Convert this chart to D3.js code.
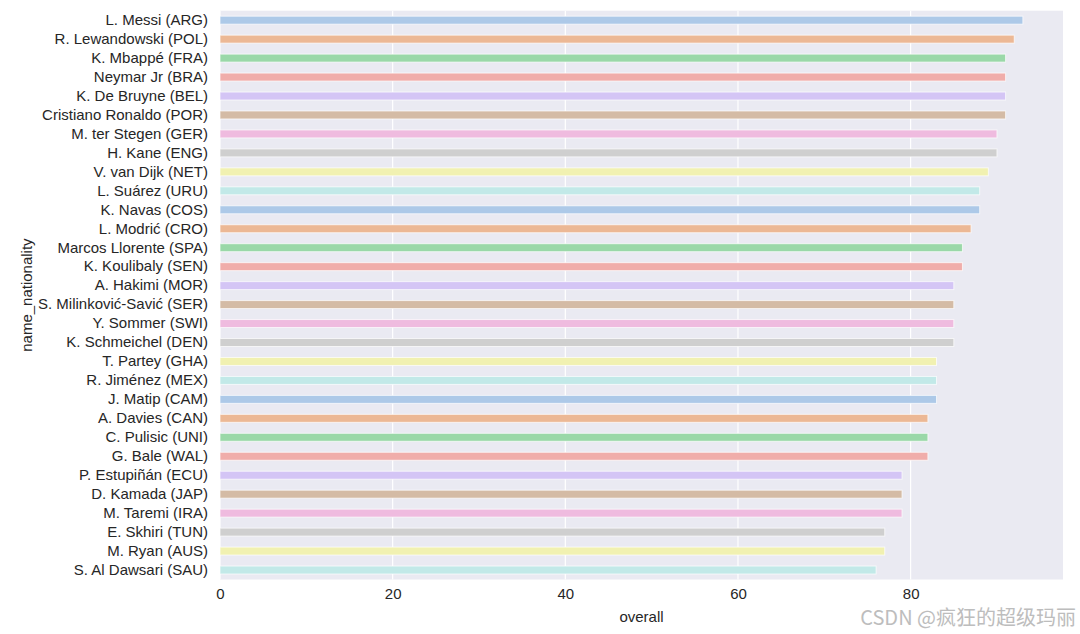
<!DOCTYPE html>
<html>
<head>
<meta charset="utf-8">
<script src="https://cdn.jsdelivr.net/npm/d3@7"></script>
<style>
  body { margin: 0; background: #fff; }
  text { font-family: "Liberation Sans", Arial, sans-serif; }
</style>
</head>
<body>
<div id="chart"></div>
<script>
// players, top rated per nationality
var players = ["L. Messi (ARG)", "R. Lewandowski (POL)", "K. Mbappé (FRA)", "Neymar Jr (BRA)",
  "K. De Bruyne (BEL)", "Cristiano Ronaldo (POR)", "M. ter Stegen (GER)", "H. Kane (ENG)",
  "V. van Dijk (NET)", "L. Suárez (URU)", "K. Navas (COS)", "L. Modrić (CRO)",
  "Marcos Llorente (SPA)", "K. Koulibaly (SEN)", "A. Hakimi (MOR)", "S. Milinković-Savić (SER)",
  "Y. Sommer (SWI)", "K. Schmeichel (DEN)", "T. Partey (GHA)", "R. Jiménez (MEX)",
  "J. Matip (CAM)", "A. Davies (CAN)", "C. Pulisic (UNI)", "G. Bale (WAL)",
  "P. Estupiñán (ECU)", "D. Kamada (JAP)", "M. Taremi (IRA)", "E. Skhiri (TUN)",
  "M. Ryan (AUS)", "S. Al Dawsari (SAU)"];
var overall = [93, 92, 91, 91, 91, 91, 90, 90, 89, 88, 88, 87, 86, 86, 85, 85, 85, 85,
  83, 83, 83, 82, 82, 82, 79, 79, 79, 77, 77, 76];
var xTicks = [0, 20, 40, 60, 80];
var pastel = ["#a1c9f4", "#ffb482", "#8de5a1", "#ff9f9b", "#d0bbff",
  "#debb9b", "#fab0e4", "#cfcfcf", "#fffea3", "#b9f2f0"];

var width = 1080, height = 634;
var pLeft = 220, pRight = 1063, pTop = 10.7, pBottom = 579.5;

var svg = d3.select("#chart").append("svg")
  .attr("width", width)
  .attr("height", height);

var x = d3.scaleLinear().domain([0, d3.max(overall) * 1.05]).range([pLeft, pRight]);
var y = d3.scaleBand().domain(players).range([pTop, pBottom]).paddingInner(0).paddingOuter(0);

// seaborn saturation 0.75 (a touch more to match the muted picture)
function desat(c) {
  var h = d3.hsl(c);
  h.s = h.s * 0.7;
  return h.formatHex();
}

// plot background
svg.append("rect")
  .attr("x", pLeft).attr("y", pTop)
  .attr("width", pRight - pLeft).attr("height", pBottom - pTop)
  .style("fill", "#eaeaf2");

// vertical grid only
svg.selectAll("line.vgrid").data(xTicks).enter().append("line")
  .attr("class", "vgrid")
  .attr("x1", function(d) { return x(d); })
  .attr("x2", function(d) { return x(d); })
  .attr("y1", pTop).attr("y2", pBottom)
  .style("stroke", "white").style("stroke-width", 1.2);

// bars
var barH = y.bandwidth() * 0.42;
svg.selectAll("rect.bar").data(players).enter().append("rect")
  .attr("class", "bar")
  .attr("x", x(0))
  .attr("y", function(d) { return y(d) + (y.bandwidth() - barH) / 2; })
  .attr("width", function(d, i) { return x(overall[i]) - x(0); })
  .attr("height", barH)
  .style("fill", function(d, i) { return desat(pastel[i % pastel.length]); })
  .style("stroke", "white")
  .style("stroke-opacity", 0.7)
  .style("stroke-width", 1);

// axes
var xAxis = svg.append("g")
  .attr("transform", "translate(0," + pBottom + ")")
  .call(d3.axisBottom(x).tickValues(xTicks).tickSize(0).tickPadding(9));
xAxis.select(".domain").remove();
xAxis.selectAll("text")
  .style("font-size", "15px")
  .style("fill", "#262626");

var yAxis = svg.append("g")
  .attr("transform", "translate(" + pLeft + ",0)")
  .call(d3.axisLeft(y).tickSize(0).tickPadding(12));
yAxis.select(".domain").remove();
yAxis.selectAll("text")
  .style("font-size", "15px")
  .style("fill", "#262626");

// axis labels
svg.append("text")
  .attr("x", (pLeft + pRight) / 2)
  .attr("y", 622)
  .attr("text-anchor", "middle")
  .text("overall")
  .style("font-size", "15px")
  .style("fill", "#262626");

svg.append("text")
  .attr("transform", "translate(32," + (pTop + pBottom) / 2 + ") rotate(-90)")
  .attr("text-anchor", "middle")
  .text("name_nationality")
  .style("font-size", "15px")
  .style("fill", "#262626");

// watermark
svg.append("text")
  .attr("x", 1076)
  .attr("y", 625)
  .attr("text-anchor", "end")
  .text("CSDN @疯狂的超级玛丽")
  .style("font-family", "'Noto Sans CJK SC', sans-serif")
  .style("font-size", "20px")
  .style("fill", "#bdbdbd");
</script>
</body>
</html>
